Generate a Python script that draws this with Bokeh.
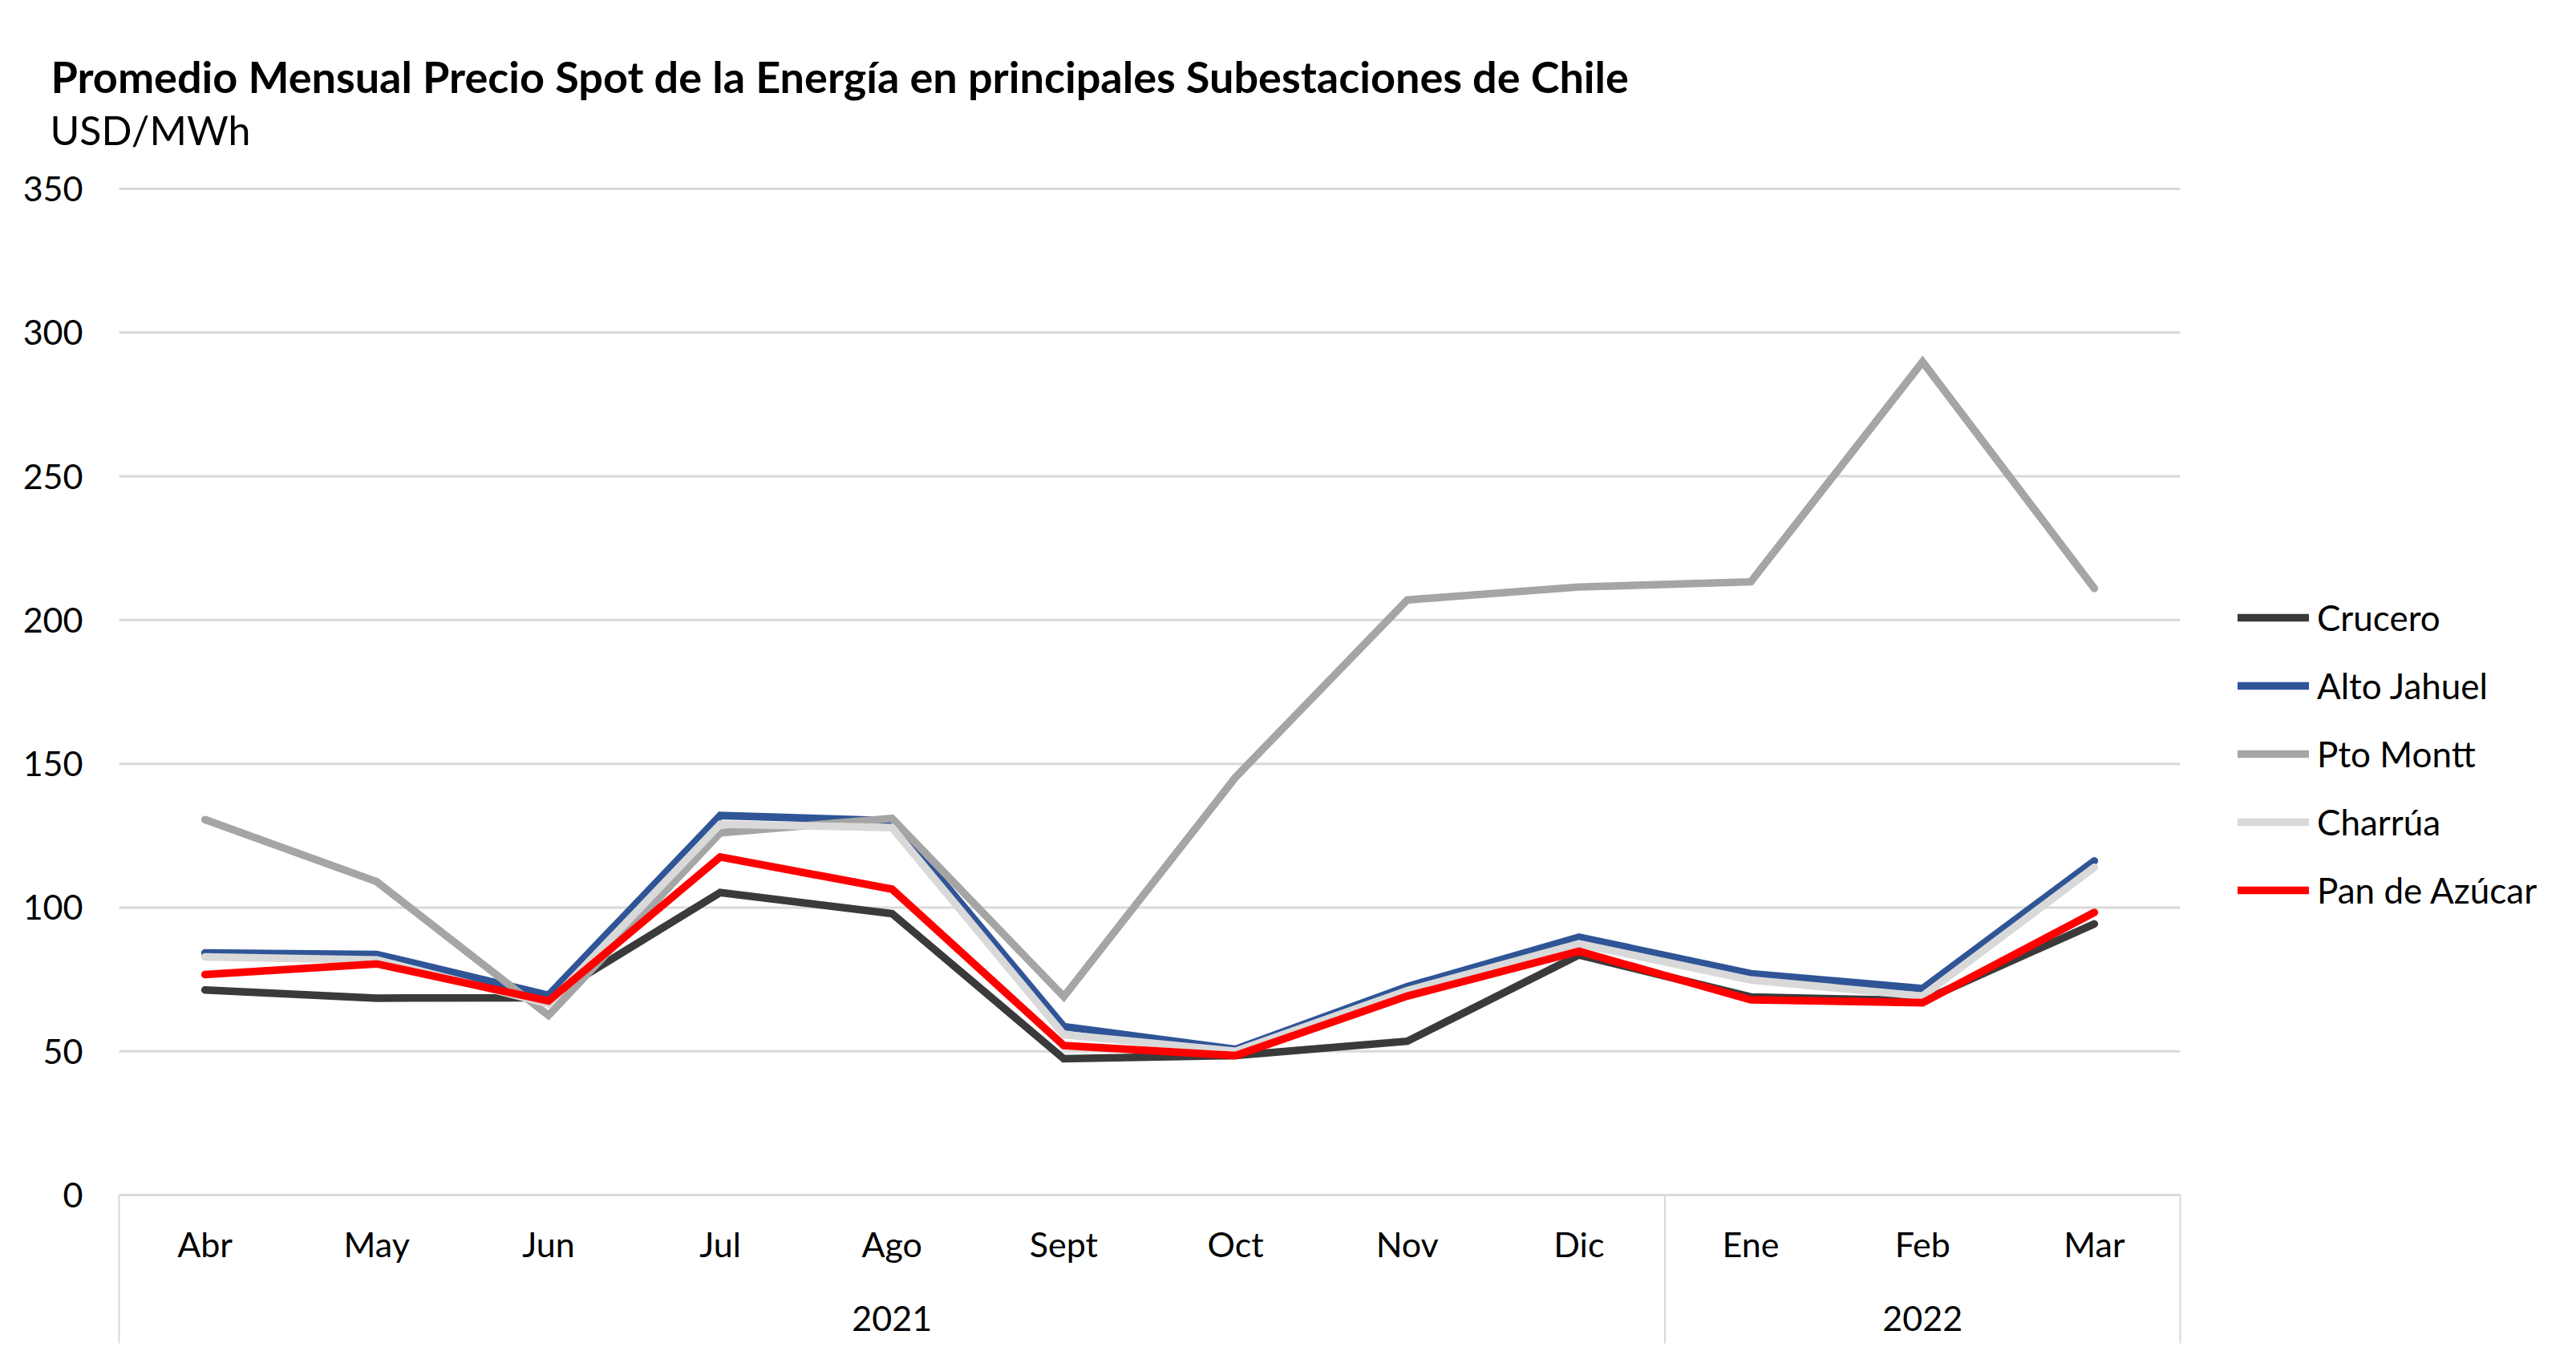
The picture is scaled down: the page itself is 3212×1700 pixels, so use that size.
from bokeh.plotting import figure
from bokeh.models import Range1d, FixedTicker, LinearAxis, Legend, LegendItem, Label
from bokeh.embed import file_html
from bokeh.resources import INLINE

# ---------------- data ----------------
months = ["Abr", "May", "Jun", "Jul", "Ago", "Sept", "Oct", "Nov", "Dic", "Ene", "Feb", "Mar"]
years = ["2021"] * 9 + ["2022"] * 3
y_ticks = [0, 50, 100, 150, 200, 250, 300, 350]

crucero = [71.3, 68.5, 68.6, 105.2, 97.9, 47.4, 48.5, 53.5, 83.5, 68.9, 67.6, 94.3]
alto_jahuel = [84.2, 83.7, 69.5, 132.0, 130.2, 58.6, 50.7, 72.5, 89.7, 77.0, 71.8, 116.2]
pto_montt = [130.6, 109.0, 62.5, 126.0, 131.0, 69.0, 145.3, 207.0, 211.5, 213.3, 289.8, 211.0]
charrua = [82.8, 81.8, 66.5, 129.0, 127.8, 55.8, 50.0, 71.1, 87.4, 74.8, 69.2, 114.0]
pan_de_azucar = [76.7, 80.4, 67.5, 117.6, 106.4, 52.0, 48.5, 69.2, 84.8, 67.9, 66.9, 98.3]

series_names = ["Crucero", "Alto Jahuel", "Pto Montt", "Charrúa", "Pan de Azúcar"]
series_values = [crucero, alto_jahuel, pto_montt, charrua, pan_de_azucar]
series_colors = ["#3a3a3a", "#2f5597", "#a5a5a5", "#d9d9d9", "#ff0000"]

title_text = "Promedio Mensual Precio Spot de la Energía en principales Subestaciones de Chile"
subtitle_text = "USD/MWh"

# ---------------- layout (pixels) ----------------
FONT = "Lato"
W, H = 3196, 1684
PL, PR, PT, PB = 148, 2718, 235, 1490   # plot area edges in canvas pixels
SEP_BOTTOM = 1675                        # bottom of category separators
n = len(months)
YMAX = y_ticks[-1]
px_x = (PR - PL) / n
px_y = (PB - PT) / YMAX


def xd(px):
    return (px - PL) / px_x


def yd(py):
    return (PB - py) / px_y


p = figure(width=W, height=H, output_backend="svg", toolbar_location=None,
           x_range=Range1d(xd(0), xd(W)), y_range=Range1d(yd(H), yd(0)),
           x_axis_type=None, y_axis_type=None, title_location=None,
           min_border=0, min_border_left=0, min_border_right=0,
           min_border_top=0, min_border_bottom=0)
p.outline_line_color = None
p.background_fill_color = "white"
p.border_fill_color = "white"

xs = [i + 0.5 for i in range(n)]

# group boundaries from the year list
bounds = [0]
for i in range(1, n):
    if years[i] != years[i - 1]:
        bounds.append(i)
bounds.append(n)

# horizontal gridlines limited to the plot area
p.segment(x0=[0] * len(y_ticks), x1=[n] * len(y_ticks), y0=y_ticks, y1=y_ticks,
          line_color="#d9d9d9", line_width=3)
# category separators below the axis
p.segment(x0=bounds, x1=bounds, y0=[0] * len(bounds), y1=[yd(SEP_BOTTOM)] * len(bounds),
          line_color="#d9d9d9", line_width=2)

label_style = dict(major_label_text_font=FONT, major_label_text_font_size="43px",
                   major_label_text_color="black")

xaxis = LinearAxis(
    fixed_location=0, bounds=(0, n),
    ticker=FixedTicker(ticks=xs, minor_ticks=[]),
    major_label_overrides={x: m for x, m in zip(xs, months)},
    axis_line_color="#d9d9d9", axis_line_width=3,
    major_tick_line_color=None, minor_tick_line_color=None,
    major_tick_out=0, major_tick_in=0, minor_tick_out=0, minor_tick_in=0,
    major_label_standoff=35, **label_style)
p.add_layout(xaxis, "below")

group_centers = [(a + b) / 2 for a, b in zip(bounds[:-1], bounds[1:])]
year_axis = LinearAxis(
    fixed_location=0, bounds=(0, n),
    ticker=FixedTicker(ticks=group_centers, minor_ticks=[]),
    major_label_overrides={c: years[a] for c, a in zip(group_centers, bounds[:-1])},
    axis_line_color=None, major_tick_line_color=None, minor_tick_line_color=None,
    major_tick_out=0, major_tick_in=0, minor_tick_out=0, minor_tick_in=0,
    major_label_standoff=138, **label_style)
p.add_layout(year_axis, "below")

yaxis = LinearAxis(
    fixed_location=0, bounds=(0, YMAX),
    ticker=FixedTicker(ticks=y_ticks, minor_ticks=[]),
    axis_line_color=None, major_tick_line_color=None, minor_tick_line_color=None,
    major_tick_out=0, major_tick_in=0, minor_tick_out=0, minor_tick_in=0,
    major_label_standoff=45, **label_style)
p.add_layout(yaxis, "left")

items = []
for name, vals, col in zip(series_names, series_values, series_colors):
    r = p.line(xs, vals, line_color=col, line_width=9.5,
               line_cap="round", line_join="miter")
    items.append(LegendItem(label=name, renderers=[r]))

legend = Legend(items=items, location=(2790, H - 1136),
                glyph_width=89, glyph_height=50, label_height=50,
                spacing=33, label_standoff=10, padding=0, margin=0,
                border_line_color=None, background_fill_alpha=0,
                label_text_font=FONT, label_text_font_size="44px",
                label_text_color="black")
p.add_layout(legend)

# title and subtitle
p.add_layout(Label(x=xd(63), y=yd(95), text=title_text,
                   text_align="left", text_baseline="alphabetic",
                   text_font=FONT, text_font_size="54px", text_font_style="bold",
                   text_color="black"))
p.add_layout(Label(x=xd(62), y=yd(161), text=subtitle_text,
                   text_align="left", text_baseline="alphabetic",
                   text_font=FONT, text_font_size="50px", text_color="black"))

open("out.html", "w").write(file_html(p, INLINE))
